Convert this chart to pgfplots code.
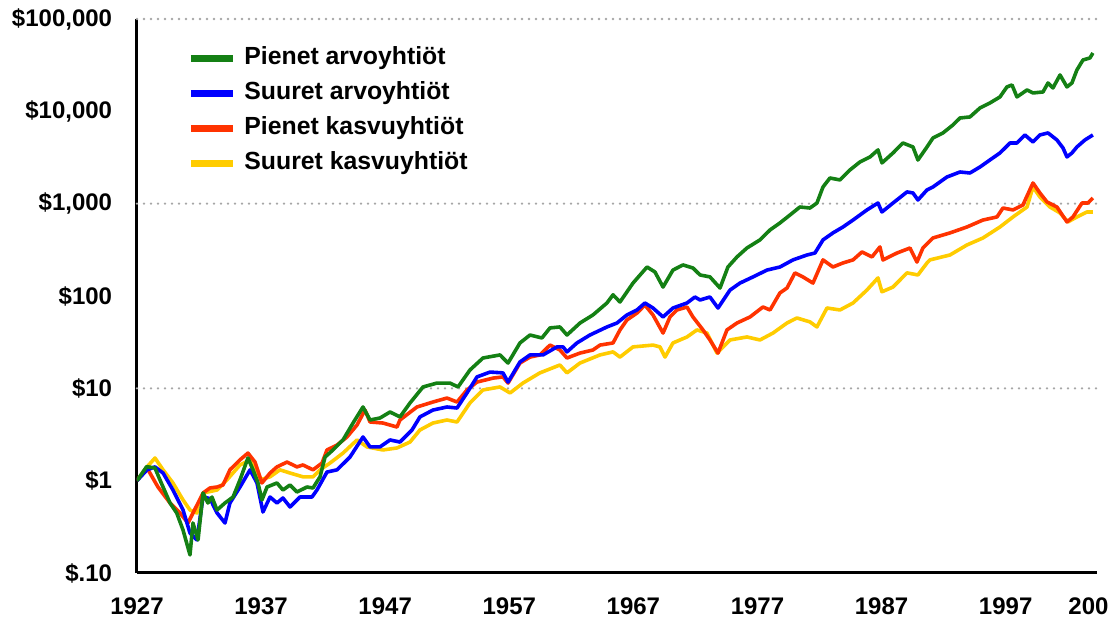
\documentclass[border=0pt]{standalone}
\usepackage{pgfplots}
\pgfplotsset{compat=1.18}
\usepackage{fontspec}
\setmainfont{Liberation Sans}
\definecolor{cgreen}{RGB}{20,128,20}
\definecolor{cblue}{RGB}{0,0,255}
\definecolor{cred}{RGB}{255,51,0}
\definecolor{cyellow}{RGB}{255,204,0}
\begin{document}
\begin{tikzpicture}
\begin{axis}[
  at={(0pt,0pt)}, anchor=south west,
  scale only axis, width=480pt, height=277pt,
  ymode=log, xmin=1927, xmax=2004.36, ymin=0.1, ymax=100000,
  axis x line*=bottom, axis y line*=left,
  axis line style={line width=1.5pt, black, -},
  major tick length=0pt, minor tick length=0pt, yminorticks=false,
  xtick={1927,1937,1947,1957,1967,1977,1987,1997,2004.36},
  xticklabels={1927,1937,1947,1957,1967,1977,1987,1997,\hspace*{-8.5pt}200},
  ytick={0.1,1,10,100,1000,10000,100000},
  yticklabels={{\$.10},{\$1},{\$10},{\$100},{\$1,000},{\$10,000},{\$100,000}},
  extra y ticks={10,1000,100000}, extra y tick labels={},
  extra y tick style={grid=major, major grid style={gray!70, line width=1.3pt, dash pattern=on 0pt off 3.5pt, line cap=round}},
  tick label style={font=\bfseries\fontsize{12}{14}\selectfont},
  yticklabel style={anchor=east, inner sep=0pt, xshift=-12.25pt},
  xticklabel style={anchor=north, inner sep=0pt, yshift=-12pt},
  every axis plot/.append style={line width=1.8pt, line join=round},
  legend style={at={(0.0521,0.9526)}, anchor=north west, draw=none, fill=none, inner sep=0pt,
    row sep=5pt, column sep=4pt,
    nodes={inner sep=0pt, text height=9.5pt, text depth=3pt, font=\bfseries\fontsize{12.4}{14}\selectfont}},
  legend cell align=left,
  legend image code/.code={\draw[#1, line width=3.5pt] (0pt,0pt) -- (21pt,0pt);},
]
\addlegendimage{cgreen}
\addlegendentry{Pienet arvoyhtiöt}
\addlegendimage{cblue}
\addlegendentry{Suuret arvoyhtiöt}
\addlegendimage{cred}
\addlegendentry{Pienet kasvuyhtiöt}
\addlegendimage{cyellow}
\addlegendentry{Suuret kasvuyhtiöt}

% Suuret kasvuyhtiot (yellow)
\addplot[cyellow, forget plot] table {
1927.0 1.0
1927.81 1.41
1928.45 1.76
1929.10 1.31
1929.90 0.944
1930.71 0.618
1931.27 0.481
1931.83 0.447
1932.32 0.735
1933.45 0.792
1934.25 1.02
1935.30 1.48
1936.11 1.68
1936.91 1.02
1937.72 1.10
1938.52 1.31
1939.33 1.21
1940.38 1.10
1941.18 1.10
1941.75 1.31
1942.55 1.55
1943.60 1.99
1944.73 2.76
1945.53 2.32
1946.82 2.15
1947.95 2.26
1949.00 2.62
1949.80 3.54
1950.85 4.21
1951.98 4.54
1952.79 4.32
1953.83 6.94
1954.88 9.60
1956.25 10.35
1957.06 8.91
1958.10 11.4
1959.47 14.7
1961.08 17.9
1961.65 14.7
1962.70 18.8
1964.31 23.0
1965.36 24.8
1965.92 21.8
1966.97 28.1
1968.58 29.4
1969.14 28.1
1969.55 21.8
1970.19 31.0
1971.32 36.0
1972.12 42.9
1972.93 39.7
1973.74 24.1
1974.79 33.4
1976.15 36.0
1977.20 33.4
1978.25 39.7
1979.38 51.0
1980.18 57.8
1981.23 52.4
1981.79 46.2
1982.60 74.1
1983.65 70.6
1984.70 84.0
1985.82 116
1986.71 157
1987.03 111
1987.92 125
1989.05 178
1989.93 169
1990.66 228
1990.90 246
1992.51 278
1993.88 357
1995.17 425
1996.54 559
1997.59 718
1998.72 920
1999.20 1516
1999.76 1181
2000.57 920
2001.38 793
2002.02 634
2002.74 718
2003.55 813
2004.03 813
};

% Pienet kasvuyhtiot (red)
\addplot[cred, forget plot] table {
1927.0 1.0
1927.81 1.37
1928.69 0.854
1929.66 0.573
1930.46 0.447
1931.11 0.348
1932.32 0.735
1932.88 0.833
1933.45 0.854
1933.93 0.898
1934.49 1.31
1935.30 1.68
1935.94 1.99
1936.51 1.59
1937.07 0.944
1937.72 1.21
1938.28 1.41
1939.09 1.59
1939.89 1.41
1940.38 1.48
1941.18 1.31
1941.91 1.55
1942.31 2.15
1943.12 2.43
1943.92 2.97
1944.73 4.01
1945.37 5.82
1945.78 4.32
1946.82 4.21
1947.95 3.81
1948.19 4.54
1949.56 6.28
1950.85 7.11
1951.98 7.85
1952.79 7.11
1953.59 9.60
1954.40 11.7
1955.69 12.9
1956.49 13.3
1956.90 11.4
1957.86 18.8
1958.67 21.8
1959.47 23.0
1960.28 29.4
1961.08 26.0
1961.65 21.3
1962.70 24.1
1963.74 26.0
1964.31 29.4
1965.36 31.0
1965.92 42.9
1966.48 55.0
1967.29 65.4
1967.93 79.9
1968.58 62.3
1969.39 39.7
1969.95 59.3
1970.51 70.6
1971.32 76.0
1971.80 59.3
1972.61 42.9
1973.17 33.4
1973.82 24.1
1974.54 42.9
1975.35 51.0
1976.40 59.3
1977.44 76.0
1978.01 70.6
1978.81 108
1979.38 122
1980.02 178
1980.66 161
1981.47 138
1982.28 246
1983.08 206
1983.89 228
1984.70 246
1985.42 300
1986.23 265
1986.87 340
1987.11 246
1988.24 292
1989.29 331
1989.85 233
1990.33 331
1991.14 425
1992.51 482
1993.88 559
1995.17 665
1996.30 718
1996.78 897
1997.59 855
1998.39 968
1999.20 1675
1999.76 1306
2000.33 1043
2001.13 920
2001.94 634
2002.42 718
2003.15 1016
2003.63 1016
2004.03 1153
};

% Suuret arvoyhtiot (blue)
\addplot[cblue, forget plot] table {
1927.0 1.0
1927.81 1.31
1928.45 1.41
1929.10 1.21
1929.90 0.792
1930.71 0.481
1931.27 0.271
1931.83 0.228
1932.32 0.665
1932.88 0.64
1933.45 0.447
1934.09 0.348
1934.49 0.573
1935.30 0.854
1936.11 1.31
1936.67 0.944
1937.15 0.458
1937.72 0.665
1938.28 0.573
1938.76 0.649
1939.33 0.519
1940.13 0.665
1941.10 0.665
1941.50 0.792
1942.31 1.24
1943.12 1.31
1944.16 1.80
1945.21 2.97
1945.78 2.32
1946.58 2.32
1947.39 2.76
1948.19 2.62
1949.16 3.54
1949.80 4.90
1950.85 5.82
1951.98 6.28
1952.79 6.12
1953.59 8.91
1954.40 13.3
1955.45 15.0
1956.49 14.7
1956.90 11.7
1957.86 19.3
1958.67 23.0
1959.72 23.0
1960.84 28.1
1961.33 28.1
1961.65 24.8
1962.45 31.0
1963.50 37.8
1964.87 46.2
1965.68 51.0
1966.48 62.3
1967.29 70.6
1967.93 84.0
1968.58 74.1
1969.39 59.3
1970.19 74.1
1971.32 84.0
1971.96 97.5
1972.37 90.5
1973.17 97.5
1973.82 74.1
1974.79 116
1975.59 138
1976.64 161
1977.77 191
1978.81 206
1979.86 246
1980.99 278
1981.63 292
1982.28 405
1983.08 482
1983.89 559
1984.70 665
1985.82 855
1986.71 1016
1987.03 813
1987.92 1016
1989.05 1340
1989.53 1306
1989.93 1096
1990.66 1408
1991.14 1516
1992.27 1945
1993.32 2203
1994.12 2149
1994.93 2495
1995.73 2972
1996.54 3540
1997.35 4541
1997.91 4541
1998.55 5546
1999.20 4656
1999.76 5546
2000.41 5834
2001.13 4898
2001.62 4009
2001.94 3206
2002.34 3540
2002.74 4111
2003.39 4898
2004.03 5546
};

% Pienet arvoyhtiot (green)
\addplot[cgreen, forget plot] table {
1927.0 1.0
1927.78 1.42
1928.45 1.37
1928.85 1.02
1929.66 0.573
1930.20 0.447
1930.71 0.292
1931.27 0.157
1931.51 0.348
1931.92 0.228
1932.32 0.735
1932.72 0.573
1933.04 0.665
1933.45 0.481
1934.09 0.573
1934.74 0.665
1935.30 1.02
1935.94 1.76
1936.35 1.31
1936.75 0.944
1937.07 0.618
1937.48 0.854
1938.28 0.944
1938.76 0.792
1939.33 0.898
1939.89 0.754
1940.70 0.854
1941.18 0.833
1941.75 1.10
1942.15 1.80
1942.79 2.15
1943.60 2.76
1944.41 4.21
1945.21 6.28
1945.78 4.54
1946.58 4.77
1947.39 5.54
1948.19 4.90
1949.00 6.94
1950.05 10.35
1951.17 11.4
1952.22 11.4
1952.87 10.35
1953.83 15.8
1954.88 21.3
1956.25 23.0
1956.90 18.8
1957.86 31.0
1958.67 37.8
1959.63 35.1
1960.28 45.1
1961.08 46.2
1961.65 37.8
1962.70 51.0
1963.74 62.3
1964.87 84.0
1965.36 103
1965.92 86.1
1966.97 138
1968.10 206
1968.74 182
1969.39 125
1970.19 191
1971.00 217
1971.80 201
1972.37 169
1973.17 161
1973.98 122
1974.62 206
1975.35 265
1976.15 331
1977.20 405
1978.01 519
1978.81 618
1979.62 754
1980.42 920
1981.23 897
1981.79 1016
1982.28 1516
1982.84 1897
1983.65 1807
1984.45 2317
1985.26 2831
1986.07 3206
1986.71 3819
1987.03 2761
1987.92 3540
1988.72 4541
1989.53 4111
1989.93 2972
1990.66 4111
1991.14 5140
1991.95 5834
1992.75 7117
1993.32 8472
1994.12 8690
1994.93 10870
1995.73 12320
1996.54 14320
1997.10 18370
1997.51 19310
1997.91 14320
1998.72 17030
1999.20 15810
2000.01 16210
2000.41 20280
2000.81 17910
2001.38 24770
2001.94 18370
2002.34 20280
2002.74 28050
2003.23 35980
2003.79 37840
2004.03 42850
};
\end{axis}
\pgfresetboundingbox
\useasboundingbox (-68.5pt,-23pt) rectangle (490pt,286.5pt);
\end{tikzpicture}
\end{document}
